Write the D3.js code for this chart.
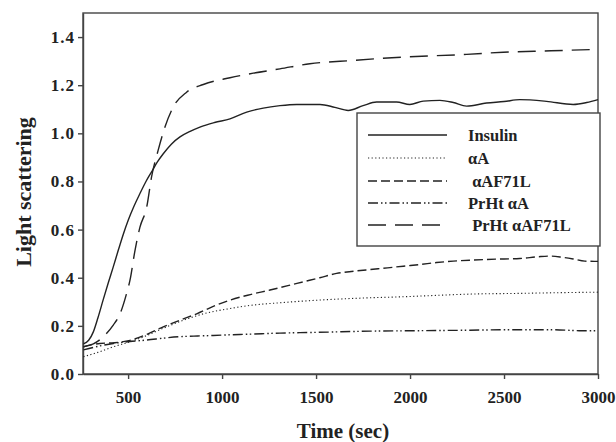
<!DOCTYPE html>
<html><head><meta charset="utf-8">
<script src="https://cdn.jsdelivr.net/npm/d3@7"></script>
<style>
body{margin:0;background:#fff;}
svg text{font-family:"Liberation Serif","Times New Roman",serif;font-weight:bold;fill:#222;}
</style></head>
<body>
<svg id="chart" width="616" height="442"></svg>
<script>
const xTicks = [500, 1000, 1500, 2000, 2500, 3000];
const yTicks = [0.0, 0.2, 0.4, 0.6, 0.8, 1.0, 1.2, 1.4];
const seriesNames = ["Insulin", "\u03b1A", " \u03b1AF71L", "PrHt \u03b1A", " PrHt \u03b1AF71L"];

const insulin = [[262,0.125],[290,0.14],[315,0.175],[340,0.235],[368,0.31],[395,0.38],[421,0.445],[448,0.515],[474,0.58],[501,0.64],[530,0.695],[563,0.75],[595,0.8],[625,0.84],[655,0.88],[687,0.915],[730,0.955],[776,0.985],[830,1.008],[882,1.026],[960,1.045],[1042,1.06],[1131,1.088],[1219,1.105],[1308,1.115],[1397,1.12],[1521,1.12],[1600,1.108],[1671,1.095],[1750,1.115],[1822,1.13],[1928,1.13],[1999,1.12],[2070,1.134],[2159,1.137],[2230,1.128],[2301,1.113],[2407,1.126],[2500,1.132],[2584,1.14],[2726,1.133],[2868,1.12],[2940,1.128],[3000,1.14]];
const alphaA = [[262,0.072],[340,0.09],[421,0.113],[510,0.134],[600,0.16],[687,0.19],[800,0.225],[900,0.25],[1042,0.272],[1150,0.285],[1308,0.296],[1450,0.304],[1609,0.311],[1800,0.317],[1964,0.321],[2150,0.327],[2319,0.332],[2584,0.335],[2800,0.338],[3000,0.34]];
const alphaAF71L = [[262,0.113],[350,0.127],[430,0.13],[510,0.14],[600,0.165],[687,0.196],[780,0.225],[865,0.25],[950,0.28],[1042,0.307],[1150,0.33],[1255,0.349],[1350,0.367],[1432,0.383],[1520,0.4],[1609,0.418],[1700,0.427],[1787,0.434],[1880,0.441],[1964,0.448],[2053,0.455],[2141,0.463],[2230,0.469],[2319,0.473],[2407,0.476],[2500,0.478],[2584,0.48],[2680,0.487],[2744,0.49],[2810,0.485],[2868,0.478],[2930,0.469],[3000,0.468]];
const prhtA = [[262,0.1],[340,0.115],[421,0.127],[510,0.135],[599,0.141],[700,0.15],[776,0.155],[870,0.158],[953,0.16],[1042,0.163],[1131,0.165],[1308,0.17],[1500,0.173],[1787,0.178],[2050,0.18],[2319,0.182],[2531,0.184],[2761,0.184],[2900,0.18],[3000,0.18]];
const prhtAF71L = [[262,0.113],[315,0.125],[368,0.155],[421,0.203],[457,0.25],[492,0.335],[510,0.39],[537,0.515],[563,0.61],[599,0.694],[625,0.82],[660,0.93],[696,1.026],[740,1.109],[811,1.171],[900,1.203],[1042,1.231],[1166,1.25],[1308,1.268],[1467,1.289],[1698,1.303],[1964,1.317],[2301,1.328],[2496,1.337],[2750,1.343],[3000,1.349]];

const seriesData = [insulin, alphaA, alphaAF71L, prhtA, prhtAF71L];
const dashes = [null, "1.2,2.4", "9,4", "10,3,1.5,2.5,1.5,3", "18,9"];

const svg = d3.select("#chart");
const L = 83, T = 13, R = 598, B = 374;
const x = d3.scaleLinear().domain([260, 3000]).range([L, R]);
const y = d3.scaleLinear().domain([0, 1.5]).range([B, T]);
const axisColor = "#444";

// frame
svg.append("rect").attr("x", L).attr("y", T).attr("width", R - L).attr("height", B - T)
  .attr("fill", "none").attr("stroke", axisColor).attr("stroke-width", 1.4);

const xa = svg.append("g").attr("transform", `translate(0,${B})`)
  .call(d3.axisBottom(x).tickValues(xTicks).tickSize(5).tickSizeOuter(0).tickPadding(12).tickFormat(d3.format("d")));
const ya = svg.append("g").attr("transform", `translate(${L},0)`)
  .call(d3.axisLeft(y).tickValues(yTicks).tickSize(5).tickSizeOuter(0).tickPadding(3).tickFormat(d3.format(".1f")));
[xa, ya].forEach(g => {
  g.select(".domain").attr("stroke", axisColor).attr("stroke-width", 1.4);
  g.selectAll(".tick line").attr("stroke", axisColor).attr("stroke-width", 1.4);
  g.selectAll(".tick text").attr("font-size", 17).attr("fill", "#222")
    .style("font-family", '"Liberation Serif",serif').style("font-weight", "bold");
});
ya.selectAll(".tick text").attr("letter-spacing", 1);

const line = d3.line().x(d => x(d[0])).y(d => y(d[1])).curve(d3.curveMonotoneX);
seriesData.forEach((s, i) => {
  svg.append("path").datum(s).attr("d", line).attr("fill", "none")
    .attr("stroke", "#222").attr("stroke-width", i === 1 ? 1.1 : 1.4)
    .attr("stroke-dasharray", dashes[i]);
});

// axis titles
svg.append("text").attr("x", 343).attr("y", 438).attr("text-anchor", "middle")
  .attr("font-size", 21).text("Time (sec)");
svg.append("text").attr("transform", "translate(31,192) rotate(-90)").attr("text-anchor", "middle")
  .attr("font-size", 22).text("Light scattering");

// legend
const lg = svg.append("g");
lg.append("rect").attr("x", 357).attr("y", 113).attr("width", 243).attr("height", 133)
  .attr("fill", "#fff").attr("stroke", axisColor).attr("stroke-width", 1.4);
const rowsY = [135, 158, 181, 203, 225];
seriesNames.forEach((n, i) => {
  lg.append("line").attr("x1", 368).attr("x2", 447).attr("y1", rowsY[i]).attr("y2", rowsY[i])
    .attr("stroke", "#222").attr("stroke-width", i === 1 ? 1.1 : 1.4).attr("stroke-dasharray", dashes[i]);
  lg.append("text").attr("x", 468).attr("y", rowsY[i] + 6).attr("font-size", 16.5)
    .attr("xml:space", "preserve").style("white-space", "pre").text(n);
});
</script>
</body></html>
